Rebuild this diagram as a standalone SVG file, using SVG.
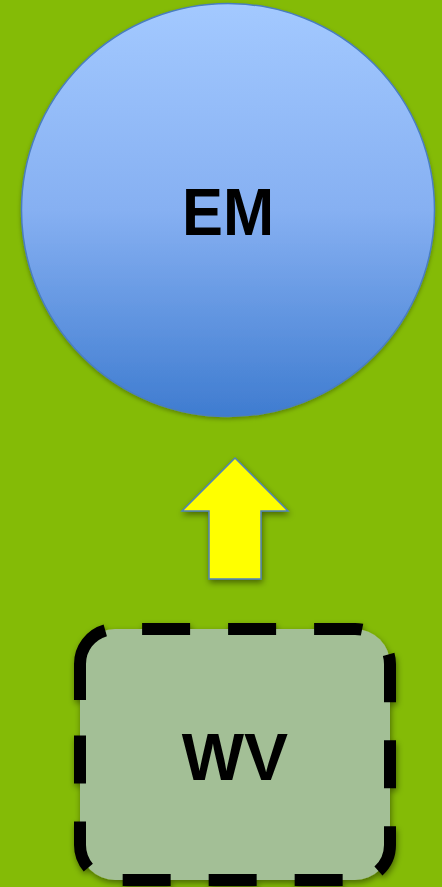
<svg xmlns="http://www.w3.org/2000/svg" width="442" height="887" viewBox="0 0 442 887">
  <defs>
    <linearGradient id="blueGrad" x1="0" y1="0" x2="0" y2="1">
      <stop offset="0" stop-color="#A3C9FF"/>
      <stop offset="0.5" stop-color="#86B0F2"/>
      <stop offset="1" stop-color="#3F7CD0"/>
    </linearGradient>
    <filter id="shadow" x="-20%" y="-20%" width="140%" height="140%">
      <feDropShadow dx="1" dy="3" stdDeviation="3" flood-color="#000" flood-opacity="0.45"/>
    </filter>
    <filter id="softShadow" x="-20%" y="-20%" width="140%" height="140%">
      <feDropShadow dx="0" dy="2" stdDeviation="2" flood-color="#000" flood-opacity="0.3"/>
    </filter>
  </defs>
  <style>
    .label { font-family: "Liberation Sans", Arial, sans-serif; font-weight: bold; font-size: 66px; fill: #000; text-anchor: middle; }
  </style>
  <rect x="0" y="0" width="442" height="887" fill="#84BB06"/>

  <g id="connectors">
    <polygon points="235,458 288,511 261,511 261,579 209,579 209,511 182,511" fill="#FFFF00" stroke="#4F81BD" stroke-width="1.5" stroke-linejoin="miter" filter="url(#shadow)"/>
  </g>

  <g id="node-EM">
    <circle cx="228" cy="210" r="206.5" fill="url(#blueGrad)" stroke="#4A7EBF" stroke-width="1.5" filter="url(#softShadow)"/>
    <text class="label" x="228" y="235" textLength="92" lengthAdjust="spacingAndGlyphs">EM</text>
  </g>

  <g id="node-WV">
    <g filter="url(#shadow)">
      <path d="M80,700 L80,664 A35,35 0 0 1 115,629 L355,629 A35,35 0 0 1 390,664 L390,845 A35,35 0 0 1 355,880 L115,880 A35,35 0 0 1 80,845 Z" fill="#A3BF96" stroke="#000" stroke-width="12" stroke-dasharray="81 37 48 38 48 38 48 38 48 38 48 38 48 38 48 38 48 38 48 38 48 38 48 36"/>
    </g>
    <text class="label" x="235" y="780">WV</text>
  </g>
</svg>
